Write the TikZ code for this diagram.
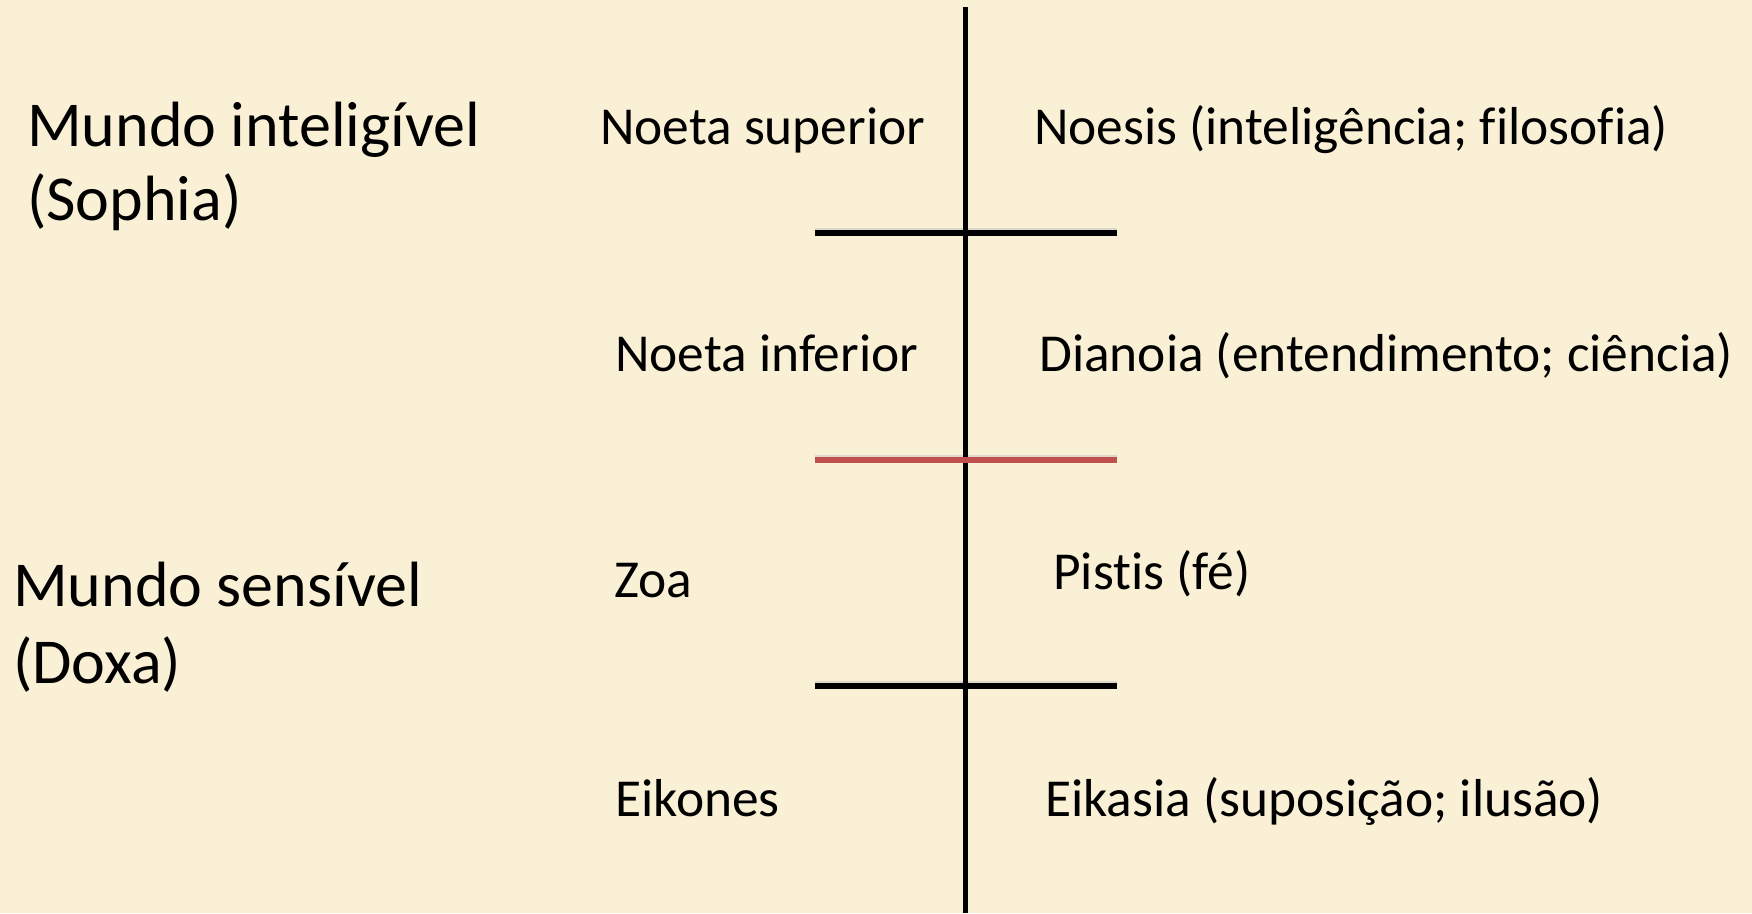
\documentclass[tikz,border=0pt]{standalone}
\usepackage{fontspec}
\setmainfont[Ligatures=NoCommon]{Carlito}
\definecolor{parch}{RGB}{250,240,213}
\definecolor{divred}{RGB}{192,80,77}
\tikzset{
  big/.style={anchor=base west, inner sep=0pt, font=\fontsize{64}{76}\selectfont},
  mid/.style={anchor=base west, inner sep=0pt, font=\fontsize{53.4}{60}\selectfont},
  axis/.style={line width=4.5pt, black},
  divider/.style={line width=6pt, black},
  divshadow/.style={line width=6pt, black!25, opacity=0.5},
}
\begin{document}
\begin{tikzpicture}[x=1pt,y=-1pt]
\fill[parch] (0,0) rectangle (1752,913);
\useasboundingbox (0,0) rectangle (1752,913);
% coordinates
\coordinate (vtop) at (965.7,7);
\coordinate (vbot) at (965.7,913);
\coordinate (h1l) at (815,233);
\coordinate (h1r) at (1117,233);
\coordinate (h2l) at (815,460);
\coordinate (h2r) at (1117,460);
\coordinate (h3l) at (815,686);
\coordinate (h3r) at (1117,686);
% shadows
\draw[divshadow] ([yshift=2.5pt]h1l) -- ([yshift=2.5pt]h1r);
\draw[divshadow] ([yshift=2.5pt]h2l) -- ([yshift=2.5pt]h2r);
\draw[divshadow] ([yshift=2.5pt]h3l) -- ([yshift=2.5pt]h3r);
% lines
\draw[axis] (vtop) -- (vbot);
\draw[divider] (h1l) -- (h1r);
\draw[divider, divred] (h2l) -- (h2r);
\draw[divider] (h3l) -- (h3r);
% left labels
\node[big] (mi) at (27,146) {Mundo inteligível};
\node[big] (soph) at (27,220) {(Sophia)};
\node[big] (ms) at (13,606) {Mundo sensível};
\node[big] (doxa) at (13,683) {(Doxa)};
% middle
\node[mid] (ns) at (600,144) {Noeta superior};
\node[mid] (ni) at (615,371) {Noeta inferior};
\node[mid] (zoa) at (614,597) {Zoa};
\node[mid] (eik) at (615,816) {Eikones};
% right
\node[mid] (noe) at (1034,144) {Noesis (inteligência; filosofia)};
\node[mid] (dia) at (1039,371) {Dianoia (entendimento; ciência)};
\node[mid] (pis) at (1053,589) {Pistis (fé)};
\node[mid] (eika) at (1045,816) {Eikasia (suposição; ilusão)};
\end{tikzpicture}
\end{document}
